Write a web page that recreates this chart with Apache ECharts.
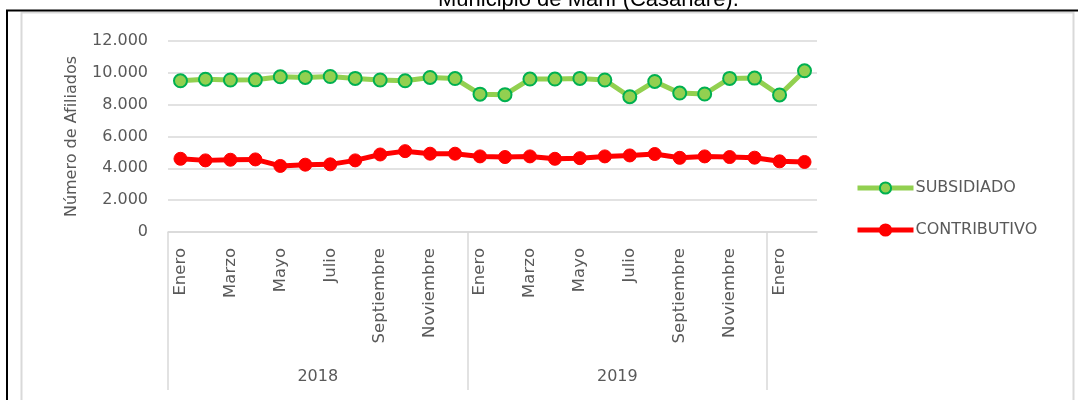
<!DOCTYPE html>
<html lang="es">
<head>
    <meta charset="utf-8">
    <title>Afiliados Maní</title>
    <style>
        body {
            margin: 0;
            background: #fff;
        }

        #chart {
            width: 1078px;
            height: 400px;
        }
    </style>
</head>
<body>
    <div id="chart"></div>
    <script src="https://cdn.jsdelivr.net/npm/echarts@6/dist/echarts.min.js"></script>
    <script>
        // meses (2018, 2019 y comienzo de 2020)
        var meses = [
            'Enero', 'Febrero', 'Marzo', 'Abril', 'Mayo', 'Junio',
            'Julio', 'Agosto', 'Septiembre', 'Octubre', 'Noviembre', 'Diciembre',
            'Enero', 'Febrero', 'Marzo', 'Abril', 'Mayo', 'Junio',
            'Julio', 'Agosto', 'Septiembre', 'Octubre', 'Noviembre', 'Diciembre',
            'Enero', 'Febrero'
        ];

        // grupos de años: etiqueta y número de meses
        var anios = ['2018', '2019', ''];
        var mesesPorAnio = [12, 12, 2];

        var subsidiado = [
            9500, 9600, 9550, 9560, 9750, 9710, 9770, 9650, 9550, 9500, 9710, 9640,
            8660, 8630, 9610, 9610, 9650, 9550, 8500, 9460, 8730, 8670, 9650, 9670,
            8610, 10130
        ];
        var contributivo = [
            4600, 4500, 4540, 4560, 4150, 4230, 4250, 4500, 4870, 5080, 4920, 4920,
            4750, 4710, 4750, 4600, 4640, 4750, 4810, 4900, 4660, 4750, 4710, 4670,
            4440, 4400
        ];

        var ticksY = [0, 2000, 4000, 6000, 8000, 10000, 12000];

        // límites y centros de los grupos de años
        var limites = [0];
        var centros = [];
        mesesPorAnio.forEach(function (n, i) {
            centros.push(limites[i] + n / 2);
            limites.push(limites[i] + n);
        });
        var limitesInternos = limites.slice(0, limites.length - 1);
        var etiquetaPorCentro = {};
        centros.forEach(function (c, i) { etiquetaPorCentro[c] = anios[i]; });

        var gris = '#595959';
        var lineaGris = '#d9d9d9';
        var fuente = '"DejaVu Sans", sans-serif';

        var chart = echarts.init(document.getElementById('chart'));

        chart.setOption({
            backgroundColor: '#fff',
            animation: false,
            graphic: [
                {
                    type: 'rect',
                    shape: { x: 21.5, y: 12.5, width: 1052, height: 400 },
                    style: { fill: 'none', stroke: lineaGris, lineWidth: 2 },
                    silent: true
                },
                {
                    type: 'polyline',
                    shape: { points: [[7, 400], [7, 10.5], [1078, 10.5]] },
                    style: { fill: 'none', stroke: '#000', lineWidth: 2 },
                    silent: true
                },
                {
                    type: 'text',
                    left: 590 - 152,
                    top: -11,
                    style: {
                        text: 'Municipio de Maní (Casanare).',
                        font: '22px "Liberation Sans", Arial, sans-serif',
                        fill: '#000'
                    },
                    silent: true
                }
            ],
            grid: {
                left: 168,
                right: 261,
                top: 41,
                bottom: 168
            },
            legend: {
                orient: 'vertical',
                left: 850,
                top: 175,
                itemWidth: 56,
                itemHeight: 14,
                itemGap: 26,
                lineStyle: { width: 5 },
                textStyle: { color: gris, fontSize: 16, fontFamily: fuente, padding: [0, 0, 0, -3] },
                data: ['SUBSIDIADO', 'CONTRIBUTIVO']
            },
            xAxis: [
                {
                    type: 'category',
                    data: meses,
                    boundaryGap: true,
                    axisLine: { lineStyle: { color: lineaGris, width: 1.5 } },
                    axisTick: { show: false },
                    axisLabel: {
                        interval: 1,
                        rotate: 90,
                        margin: 16,
                        color: gris,
                        fontSize: 16.5,
                        fontFamily: fuente
                    },
                    splitLine: { show: false }
                },
                {
                    type: 'value',
                    position: 'bottom',
                    min: 0,
                    max: limites[limites.length - 1],
                    axisLine: { show: false },
                    splitLine: { show: false },
                    axisTick: {
                        show: true,
                        customValues: limitesInternos,
                        length: 158,
                        lineStyle: { color: lineaGris, width: 1.5 }
                    },
                    axisLabel: {
                        customValues: centros,
                        margin: 137,
                        color: gris,
                        fontSize: 16,
                        fontFamily: fuente,
                        formatter: function (v) { return etiquetaPorCentro[v] || ''; }
                    }
                }
            ],
            yAxis: {
                type: 'value',
                min: ticksY[0],
                max: ticksY[ticksY.length - 1],
                interval: ticksY[1] - ticksY[0],
                name: 'Número de Afiliados',
                nameLocation: 'middle',
                nameGap: 88,
                nameTextStyle: { color: gris, fontSize: 16, fontFamily: fuente },
                axisLine: { show: false },
                axisTick: { show: false },
                axisLabel: {
                    color: gris,
                    fontSize: 16,
                    fontFamily: fuente,
                    margin: 20,
                    formatter: function (v) {
                        return String(v).replace(/\B(?=(\d{3})+(?!\d))/g, '.');
                    }
                },
                splitLine: { lineStyle: { color: lineaGris, width: 1.5 } }
            },
            series: [
                {
                    name: 'SUBSIDIADO',
                    type: 'line',
                    data: subsidiado,
                    symbol: 'circle',
                    symbolSize: 13,
                    lineStyle: { color: '#92d050', width: 5 },
                    itemStyle: { color: '#92d050', borderColor: '#00b050', borderWidth: 2 }
                },
                {
                    name: 'CONTRIBUTIVO',
                    type: 'line',
                    data: contributivo,
                    symbol: 'circle',
                    symbolSize: 13,
                    lineStyle: { color: '#ff0000', width: 5 },
                    itemStyle: { color: '#ff0000', borderColor: '#ff0000', borderWidth: 1 }
                }
            ]
        });
    </script>
</body>
</html>
